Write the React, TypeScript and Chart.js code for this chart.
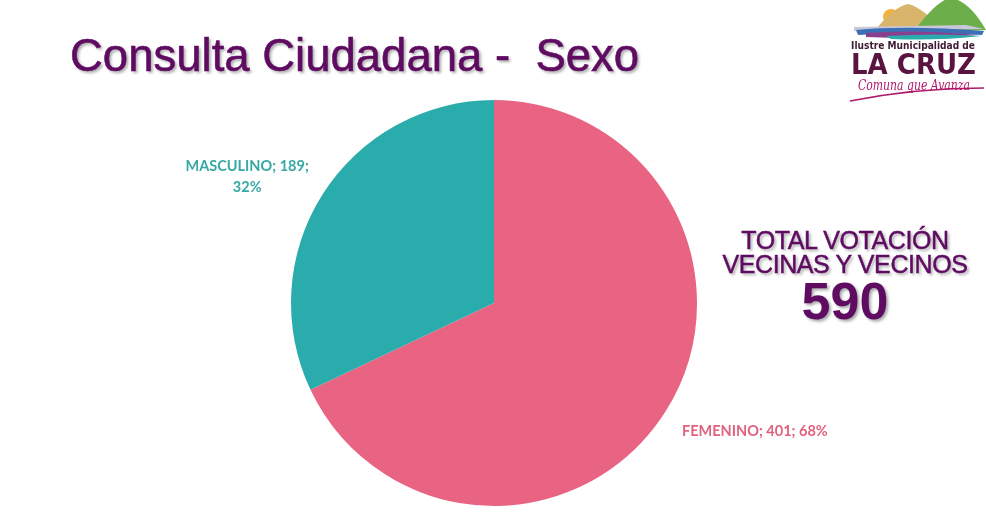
import React, { useEffect, useRef } from "react";
import { Chart, registerables } from "chart.js";

Chart.register(...registerables);

const categories = ["FEMENINO", "MASCULINO"];
const values = [401, 189];
const percents = ["68%", "32%"];
const sliceColors = ["#E96383", "#2AACAD"];
const labelColors = ["#E0627F", "#36A8A6"];
const labelLines = [["FEMENINO; 401; 68%"], ["MASCULINO; 189;", "32%"]];
const totalLines = ["TOTAL VOTACIÓN", "VECINAS Y VECINOS"];
const totalValue = "590";

const labelPlugin = {
  id: "sliceLabels",
  afterDatasetsDraw(chart: any) {
    const ctx = chart.ctx;
    const meta = chart.getDatasetMeta(0);
    ctx.save();
    ctx.font = "bold 14.5px Lato, 'Open Sans', sans-serif";
    ctx.textAlign = "center";
    ctx.textBaseline = "middle";
    meta.data.forEach((arc: any, i: number) => {
      const p = arc.getProps(["x", "y", "startAngle", "endAngle", "outerRadius"], true);
      const mid = (p.startAngle + p.endAngle) / 2;
      const cx = p.x + 7 + Math.cos(mid) * p.outerRadius * 1.48;
      const cy = p.y + 1 + Math.sin(mid) * p.outerRadius * 1.17;
      const lines = labelLines[i];
      const lh = 21;
      ctx.fillStyle = labelColors[i];
      lines.forEach((t: string, j: number) => {
        ctx.fillText(t, cx, cy + (j - (lines.length - 1) / 2) * lh);
      });
    });
    ctx.restore();
  },
};

function Logo() {
  return (
    <svg width="140" height="105" viewBox="0 0 140 105" style={{ position: "absolute", left: 846, top: 0 }}>
      <circle cx="45" cy="17" r="8" fill="#F2B33D" />
      <path d="M26 34 Q48 6 62 4 Q78 8 98 32 Z" fill="#D9B56B" />
      <path d="M66 34 Q92 -2 106 -2 Q124 2 140 30 Z" fill="#6BAE4A" />
      <path d="M8 27 L120 25 L138 29 L8 31 Z" fill="#C8C8D8" />
      <path d="M10 30 Q60 25 138 31 L136 35 Q70 31 12 35 Z" fill="#3B6FB6" />
      <path d="M20 33 Q70 29 132 35 Q80 40 20 37 Z" fill="#8A3E8E" />
      <path d="M40 36 Q90 33 136 36 Q90 41 45 39 Z" fill="#2AACAD" />
      <text x="5" y="49" textLength="124" lengthAdjust="spacingAndGlyphs" fontFamily="'DejaVu Sans', sans-serif" fontWeight="bold" fontSize="11" fill="#3E1A33">Ilustre Municipalidad de</text>
      <text x="5" y="74" textLength="125" lengthAdjust="spacingAndGlyphs" fontFamily="'DejaVu Sans', sans-serif" fontWeight="bold" fontSize="29" fill="#5A1440">LA CRUZ</text>
      <text x="12" y="90" textLength="112" lengthAdjust="spacingAndGlyphs" fontFamily="'DejaVu Serif', serif" fontStyle="italic" fontSize="15" fill="#B0186A">Comuna que Avanza</text>
      <path d="M4 101 Q70 88 138 88" stroke="#B0186A" strokeWidth="1.6" fill="none" />
    </svg>
  );
}

export default function App() {
  const ref = useRef<HTMLCanvasElement | null>(null);
  useEffect(() => {
    if (!ref.current) return;
    const chart = new Chart(ref.current, {
      type: "pie",
      data: {
        labels: categories,
        datasets: [
          {
            data: values,
            backgroundColor: sliceColors,
            borderWidth: 0,
          },
        ],
      },
      options: {
        animation: false,
        responsive: false,
        maintainAspectRatio: false,
        layout: { padding: { left: 291, right: 289, top: 100, bottom: 12 } },
        plugins: {
          legend: { display: false },
          tooltip: { enabled: false },
          title: { display: false },
        },
      },
      plugins: [labelPlugin],
    });
    return () => chart.destroy();
  }, []);

  const purple = "#5E0B61";
  const shadow = "2px 2px 3px rgba(0,0,0,0.35)";
  return (
    <div style={{ position: "fixed", left: 0, top: 0, width: 986, height: 518, background: "#FFFFFF", overflow: "hidden" }}>
      <canvas ref={ref} width={986} height={518} style={{ position: "absolute", left: 0, top: 0, width: 986, height: 518 }} />
      <div
        style={{
          position: "absolute",
          left: 70,
          top: 29,
          fontFamily: "'Liberation Sans', Arial, sans-serif",
          fontSize: 45.5,
          color: purple,
          whiteSpace: "pre",
          lineHeight: "54px",
          textShadow: shadow,
          WebkitTextStroke: "0.6px " + purple,
        }}
      >
        {"Consulta Ciudadana -  Sexo"}
      </div>
      <div
        style={{
          position: "absolute",
          left: 700,
          width: 290,
          top: 228,
          textAlign: "center",
          fontFamily: "'Liberation Sans', Arial, sans-serif",
          color: purple,
          textShadow: shadow,
        }}
      >
        {totalLines.map((t) => (
          <div key={t} style={{ fontSize: 25, lineHeight: "24px", letterSpacing: -0.4, WebkitTextStroke: "0.5px " + purple }}>{t}</div>
        ))}
        <div style={{ fontSize: 52, lineHeight: "46px", fontWeight: "bold", marginTop: 2 }}>{totalValue}</div>
      </div>
      <Logo />
    </div>
  );
}
